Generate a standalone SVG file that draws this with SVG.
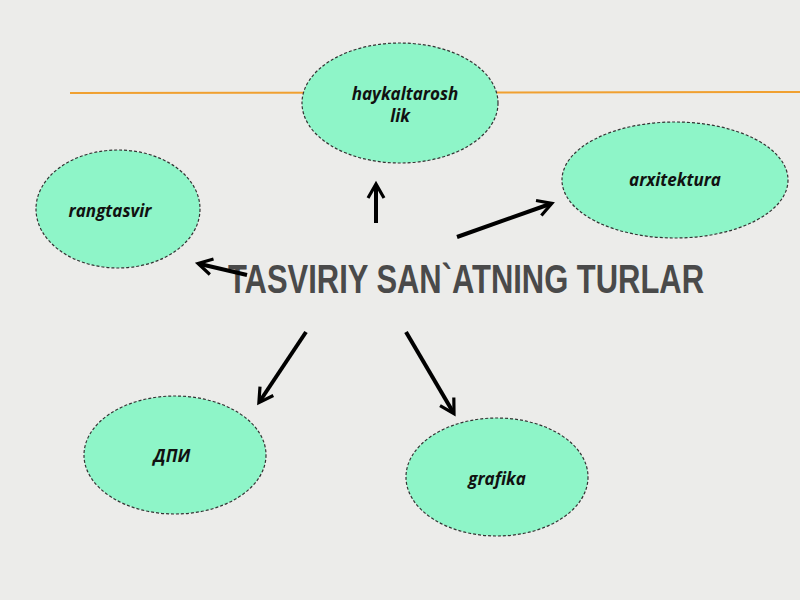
<svg xmlns="http://www.w3.org/2000/svg" width="800" height="600" viewBox="0 0 800 600">
<defs>
<style>
.n{fill:#8ef5c8;stroke:#333;stroke-width:1.2;stroke-dasharray:3 2}
.t{font-family:"Open Sans","DejaVu Sans",sans-serif;font-weight:bold;font-style:italic;font-size:17px;fill:#111;text-anchor:middle}
.c line{stroke:#000;stroke-width:4;marker-end:url(#a)}
</style>
<marker id="a" viewBox="0 0 10 10" refX="7" refY="5" markerWidth="5" markerHeight="5" orient="auto" markerUnits="strokeWidth"><path d="M1,1 L8,5 L1,9" fill="none" stroke="#000" stroke-width="1.6"/></marker>
</defs>
<rect width="800" height="600" fill="#ececea"/>
<line x1="70" y1="93" x2="800" y2="92" stroke="#f0a030" stroke-width="2"/>
<g id="haykaltarosh"><ellipse class="n" cx="400" cy="103" rx="98" ry="60"/><text class="t" x="405" y="100">haykaltarosh</text><text class="t" x="400" y="122">lik</text></g>
<g id="rangtasvir"><ellipse class="n" cx="118" cy="209" rx="82" ry="59"/><text class="t" x="110" y="217">rangtasvir</text></g>
<g id="arxitektura"><ellipse class="n" cx="675" cy="180" rx="113" ry="58"/><text class="t" x="675" y="186">arxitektura</text></g>
<g id="dpi"><ellipse class="n" cx="175" cy="455" rx="91" ry="59"/><text class="t" x="172" y="462">ДПИ</text></g>
<g id="grafika"><ellipse class="n" cx="497" cy="477" rx="91" ry="59"/><text class="t" x="497" y="485">grafika</text></g>
<g id="title"><text x="228" y="293" textLength="476" lengthAdjust="spacingAndGlyphs" font-family="'Liberation Sans Narrow','Liberation Sans',sans-serif" font-weight="bold" font-size="40" fill="#4a4a4a">TASVIRIY SAN`ATNING TURLAR</text></g>
<g class="c">
<line x1="376" y1="223" x2="376" y2="186"/>
<line x1="457" y1="237" x2="550" y2="204"/>
<line x1="247" y1="275" x2="200" y2="264"/>
<line x1="306" y1="332" x2="260" y2="401"/>
<line x1="406" y1="332" x2="453" y2="412"/>
</g>
</svg>
